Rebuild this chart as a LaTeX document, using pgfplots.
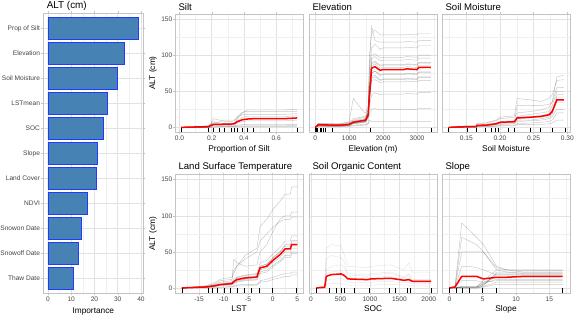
\documentclass[border=0pt]{standalone}
\usepackage{pgfplots}
\usepackage{pgfplotstable}
\pgfplotsset{compat=1.18}
\usepackage{fontspec}
\setmainfont{Liberation Sans}
\definecolor{steel}{HTML}{4682B4}
\definecolor{barblue}{HTML}{1F3BFF}
\definecolor{bordergrey}{HTML}{C4C4C4}
\definecolor{gridgrey}{HTML}{E2E2E2}
\definecolor{minorgrey}{HTML}{F0F0F0}
\definecolor{txtgrey}{HTML}{444444}
\newcommand{\ticksz}{\fontsize{6.6}{7.5}\selectfont}
\newcommand{\labsz}{\fontsize{8.3}{9.5}\selectfont}
\newcommand{\titsz}{\fontsize{9.6}{11}\selectfont}

\pgfplotstableread{
x m g1 g2 g3 g4 g5 g6 g7 g8
0.01 0 0 0 0 0 0 0 0 0
0.18 1 0 1 0 2 1 0 2 0
0.21 4 2 8 12 3 5 1 6 0
0.25 4 2 6 10 3 5 1 8 1
0.28 4.5 2 5 8 3 5 1 10 1
0.32 4.5 2 6 8 3 6 1 10 1
0.34 5 2 6 9 3 6 1 10 1
0.36 8 3 12 14 6 10 2 15 1
0.39 10.5 4 20 18 8 14 2 21 1
0.42 11.5 4 24 18 9 15 2 22 1
0.46 12 4 24 18 9 15 2 22 1
0.56 12 4 24 18 9 15 2 22 1
0.65 12 4 24 18 9 15 2 22 1
0.73 13 4 25 19 10 16 3 22 1
}\silt

\pgfplotstableread{
x m g1 g2 g3 g4 g5 g6 g7 g8 g9 g10 g11 g12 g13 g14 g15 g16
0 0 0 0 0 0 0 0 0 0 0 0 0 0 0 0 0 0
90 3.7 2 5 3 4 2 6 3 4 1 3 2 5 3 4 2 4
500 3 2 4 3 3 1 5 3 3 1 2 2 5 3 3 2 4
730 3 2 4 3 3 1 5 3 3 1 2 2 5 3 3 2 4
1000 4 3 6 4 4 2 8 4 5 1 3 3 7 4 5 3 5
1120 7 5 10 6 8 3 40 7 9 2 6 5 12 7 8 6 8
1450 9.7 7 14 8 10 4 20 9 12 3 8 7 15 9 11 8 10
1480 10 8 14 8 12 4 20 10 12 3 9 7 15 10 11 9 11
1560 17.5 12 25 15 20 6 30 18 20 5 16 14 25 17 19 15 20
1600 45 30 80 60 55 20 100 50 45 10 50 40 90 42 48 38 55
1660 82 45 110 95 75 25 130 85 65 8 90 70 140 75 88 68 100
1760 84 48 115 98 78 26 135 88 66 8 92 72 120 78 90 70 102
1910 79 45 108 92 72 24 128 82 62 8 86 66 118 73 85 65 96
2000 80 46 110 93 73 25 128 83 63 8 87 67 118 74 86 66 97
2600 80 46 110 93 73 25 128 83 63 8 87 67 118 74 86 66 97
2700 81 47 111 94 74 25 129 84 64 8 88 68 119 75 87 67 98
3000 80 46 110 93 73 25 128 83 63 8 87 67 118 74 86 66 97
3050 83 48 113 96 76 26 130 86 65 8 90 70 120 77 89 69 100
3410 83 48 113 96 76 26 130 86 65 8 90 70 120 77 89 69 100
}\elev

\pgfplotstableread{
x m g1 g2 g3 g4 g5 g6 g7 g8 g9 g10
0.124 0 0 0 0 0 0 0 0 0 0 0
0.151 1 1 0 1 0 2 1 0 1 1 1
0.165 1 1 0 2 1 2 1 0 1 1 1
0.166 2.8 3 1 5 2 6 3 1 2 3 2
0.179 3 3 1 6 2 6 4 1 2 3 3
0.185 3.7 4 1 7 3 8 5 1 2 4 3
0.1945 5 5 2 9 4 10 6 1 3 5 4
0.2 7 7 3 12 5 14 8 2 4 7 6
0.2215 7.8 8 3 14 5 16 9 2 5 8 7
0.2255 13 30 5 20 8 40 15 4 10 14 12
0.245 14 30 6 22 9 38 18 4 10 15 13
0.261 15.2 30 7 24 10 36 20 4 12 16 14
0.273 17.5 32 8 28 12 40 22 5 14 19 16
0.2776 22 35 10 35 15 45 30 6 18 24 20
0.2845 38 55 20 70 25 65 50 10 42 45 35
0.295 38 55 20 72 25 66 50 10 42 46 35
}\soilm

\pgfplotstableread{
x m g1 g2 g3 g4 g5 g6 g7 g8 g9 g10 g11 g12
-18.5 0 0 0 0 0 0 0 0 0 0 0 0 0
-13.4 1.4 2 1 3 1 0 2 1 0 3 1 1 2
-11.7 3.2 5 2 8 3 1 4 3 0 6 3 2 4
-10.7 4.6 8 3 12 4 1 6 5 1 10 5 4 5
-8.3 6 10 4 15 5 2 8 7 1 12 6 5 7
-7.9 8.8 40 6 20 7 3 12 10 2 25 9 8 10
-7.3 11.5 35 8 30 9 4 15 14 3 30 11 10 13
-5.6 13.8 30 10 45 11 5 18 17 3 40 14 12 15
-3.2 15.2 32 11 55 12 5 20 19 4 50 15 14 17
-2.55 27.7 50 20 85 22 8 35 30 10 65 28 25 30
-1.2 30 60 22 95 25 9 38 33 12 75 31 28 33
0.2 39 80 30 110 32 12 48 43 15 85 40 36 42
1.5 46 95 36 120 38 14 56 50 18 92 47 42 50
2.55 54 100 42 130 45 16 65 60 20 95 55 50 58
3.6 54 100 42 130 45 16 65 60 20 95 55 50 58
3.9 60 105 48 140 50 18 72 66 22 98 61 55 64
5.06 60 105 48 140 50 18 72 66 22 98 61 55 64
}\lst

\pgfplotstableread{
x m g1 g2 g3 g4 g5 g6
91 0 0 0 0 0 0 0
231 1 2 0 1 0 3 1
259 16 40 10 25 5 55 20
343 18.5 45 12 30 6 60 22
512 19.4 42 13 32 6 58 24
568 17 35 11 28 5 45 20
624 12.5 20 8 18 4 30 14
961 11.5 18 7 16 4 28 13
1017 12.5 20 8 18 4 30 15
1354 13.4 22 9 20 5 32 16
1578 10.6 15 7 14 4 25 12
1663 11.5 20 8 18 4 35 14
1719 9.2 12 6 10 3 22 10
2040 9.2 12 6 10 3 22 10
}\soc

\pgfplotstableread{
x m g1 g2 g3 g4 g5 g6 g7 g8 g9 g10 g11 g12 g13
0 0 0 0 0 0 0 0 0 0 0 0 0 0 0
0.85 1.4 2 1 0 0 2 1 0 1 0 0 0 1 0
1.86 16 90 50 2 1 70 10 0 30 1 0 1 2 0
3 16 80 50 2 1 65 10 0 30 1 0 1 2 0
4.1 16 70 50 2 1 60 10 0 28 1 0 1 2 0
5.1 12.5 60 50 10 5 50 8 2 25 6 3 4 8 1
7.1 14.8 30 25 25 20 28 15 8 18 12 22 18 10 5
8.6 14.8 25 22 25 20 25 15 8 18 12 22 18 10 5
11.1 16 22 20 25 20 24 15 8 18 12 22 18 10 5
17 16 22 20 25 20 24 15 8 18 12 22 18 10 5
}\slope

\pgfplotsset{
  base/.style={
    scale only axis, grid=both,
    major grid style={draw=gridgrey, line width=0.45pt},
    minor grid style={draw=minorgrey, line width=0.3pt},
    axis line style={draw=bordergrey, line width=0.5pt},
    tick align=outside, major tick length=2pt, minor tick length=0pt,
    tick style={draw=bordergrey, line width=0.4pt},
    tick label style={font=\ticksz, text=txtgrey},
    xticklabel style={anchor=north, inner sep=0pt, yshift=-1.5pt},
    every axis x label/.style={at={(axis description cs:0.5,0)}, anchor=base, yshift=-18.8pt, font=\labsz},
    every axis title/.style={at={(axis description cs:0,1)}, anchor=base west, yshift=3.8pt, font=\titsz},
    /pgf/number format/assume math mode=true,
  },
  ice/.style={base, width=128pt, height=118.4pt, ymin=-7, ymax=157,
    ytick={0,50,100,150}, minor ytick={25,75,125}},
  leftp/.style={ytick pos=left, yticklabel pos=left,
    yticklabels={0,50,100,150},
    yticklabel style={anchor=east, inner sep=0.5pt}},
  innerp/.style={yticklabels={}, y tick style={draw=none}},
  greyl/.style={draw=black, opacity=0.22, line width=0.45pt, forget plot},
  meanl/.style={draw=red, line width=1.5pt},
  rugm/.style={only marks, mark=|, mark size=2.3pt, mark options={draw=black, line width=0.7pt}},
}

\begin{document}
\begin{tikzpicture}
\useasboundingbox (0,0) rectangle (575pt,315pt);

% ---------- importance bar chart ----------
\begin{axis}[base, at={(43.3pt,21.7pt)}, anchor=south west,
  width=100pt, height=280pt,
  xmin=-2, xmax=41, ymin=0.4, ymax=11.6,
  xtick={0,10,20,30,40}, minor xtick={5,15,25,35},
  ytick={1,2,3,4,5,6,7,8,9,10,11},
  yticklabels={Thaw Date,Snowoff Date,Snowon Date,NDVI,Land Cover,Slope,SOC,LSTmean,Soil Moisture,Elevation,Prop of Silt},
  yticklabel style={anchor=east, inner sep=0pt, xshift=-1.1pt},
  title={ALT (cm)}, title style={yshift=0.5pt, font=\fontsize{9.9}{11}\selectfont},
  xlabel={Importance}, xlabel style={yshift=-1pt},
  xbar, bar width=0.87]
\addplot[xbar, fill=steel, draw=barblue, line width=0.8pt] coordinates {
 (10.9,1) (13.2,2) (14.4,3) (17.0,4) (20.8,5) (21.2,6) (23.7,7) (25.5,8) (30.0,9) (32.7,10) (38.9,11)};
\end{axis}

% ---------- Silt ----------
\begin{axis}[ice, leftp, at={(175pt,182.6pt)}, anchor=south west,
  xmin=-0.028, xmax=0.767,
  xtick={0,0.2,0.4,0.6}, xticklabels={0.0,0.2,0.4,0.6}, minor xtick={0.1,0.3,0.5,0.7},
  title={Silt}, xlabel={Proportion of Silt}]
\pgfplotsinvokeforeach{g1,g2,g3,g4,g5,g6,g7,g8}{\addplot[greyl] table[x=x,y=#1]{\silt};}
\addplot[meanl] table[x=x,y=m]{\silt};
\addplot[rugm] coordinates {(0.01,-3.8) (0.18,-3.8) (0.21,-3.8) (0.25,-3.8) (0.28,-3.8) (0.32,-3.8) (0.34,-3.8) (0.36,-3.8) (0.39,-3.8) (0.42,-3.8) (0.46,-3.8) (0.56,-3.8) (0.73,-3.8)};
\end{axis}

% ---------- Elevation ----------
\begin{axis}[ice, innerp, at={(309pt,182.6pt)}, anchor=south west,
  xmin=-186, xmax=3590,
  xtick={0,1000,2000,3000}, xticklabels={0,1000,2000,3000}, minor xtick={500,1500,2500,3500},
  title={Elevation}, xlabel={Elevation (m)}]
\pgfplotsinvokeforeach{g1,g2,g3,g4,g5,g6,g7,g8,g9,g10,g11,g12,g13,g14,g15,g16}{\addplot[greyl] table[x=x,y=#1]{\elev};}
\addplot[meanl] table[x=x,y=m]{\elev};
\addplot[rugm] coordinates {(0,-3.8) (20,-3.8) (40,-3.8) (60,-3.8) (140,-3.8) (190,-3.8) (240,-3.8) (285,-3.8) (510,-3.8) (1610,-3.8) (3420,-3.8)};
\end{axis}

% ---------- Soil Moisture ----------
\begin{axis}[ice, innerp, at={(442pt,182.6pt)}, anchor=south west,
  xmin=0.114, xmax=0.304,
  xtick={0.15,0.2,0.25,0.3}, xticklabels={0.15,0.20,0.25,0.30}, minor xtick={0.125,0.175,0.225,0.275},
  title={Soil Moisture}, xlabel={Soil Moisture}]
\pgfplotsinvokeforeach{g1,g2,g3,g4,g5,g6,g7,g8,g9,g10}{\addplot[greyl] table[x=x,y=#1]{\soilm};}
\addplot[meanl] table[x=x,y=m]{\soilm};
\addplot[rugm] coordinates {(0.124,-3.8) (0.151,-3.8) (0.1655,-3.8) (0.179,-3.8) (0.1875,-3.8) (0.1925,-3.8) (0.198,-3.8) (0.213,-3.8) (0.222,-3.8) (0.245,-3.8) (0.26,-3.8) (0.278,-3.8) (0.297,-3.8)};
\end{axis}

% ---------- LST ----------
\begin{axis}[ice, leftp, at={(175pt,22pt)}, anchor=south west,
  xmin=-19.9, xmax=6.2,
  xtick={-15,-10,-5,0,5}, xticklabels={-15,-10,-5,0,5}, minor xtick={-17.5,-12.5,-7.5,-2.5,2.5},
  title={Land Surface Temperature}, title style={yshift=1.5pt}, xlabel={LST}]
\pgfplotsinvokeforeach{g1,g2,g3,g4,g5,g6,g7,g8,g9,g10,g11,g12}{\addplot[greyl] table[x=x,y=#1]{\lst};}
\addplot[meanl] table[x=x,y=m]{\lst};
\addplot[rugm] coordinates {(-18.5,-3.8) (-13.1,-3.8) (-12.2,-3.8) (-11.2,-3.8) (-9.8,-3.8) (-8.7,-3.8) (-7.2,-3.8) (-5.8,-3.8) (-4.4,-3.8) (-2.7,-3.8) (0,-3.8) (4.9,-3.8)};
\end{axis}

% ---------- SOC ----------
\begin{axis}[ice, innerp, at={(309pt,22pt)}, anchor=south west,
  xmin=-35, xmax=2140,
  xtick={0,500,1000,1500,2000}, xticklabels={0,500,1000,1500,2000}, minor xtick={250,750,1250,1750},
  title={Soil Organic Content}, title style={yshift=1.5pt}, xlabel={SOC}]
\pgfplotsinvokeforeach{g1,g2,g3,g4,g5,g6}{\addplot[greyl, opacity=0.1] table[x=x,y=#1]{\soc};}
\addplot[meanl] table[x=x,y=m]{\soc};
\addplot[rugm] coordinates {(91,-3.8) (315,-3.8) (427,-3.8) (512,-3.8) (568,-3.8) (736,-3.8) (989,-3.8) (1326,-3.8) (1438,-3.8) (1635,-3.8) (1691,-3.8) (2040,-3.8)};
\end{axis}

% ---------- Slope ----------
\begin{axis}[ice, innerp, at={(442pt,22pt)}, anchor=south west,
  xmin=-1.1, xmax=18.1,
  xtick={0,5,10,15}, xticklabels={0,5,10,15}, minor xtick={2.5,7.5,12.5,17.5},
  title={Slope}, title style={yshift=1.5pt}, xlabel={Slope}]
\pgfplotsinvokeforeach{g1,g2,g3,g4,g5,g6,g7,g8,g9,g10,g11,g12,g13}{\addplot[greyl] table[x=x,y=#1]{\slope};}
\addplot[meanl] table[x=x,y=m]{\slope};
\addplot[rugm] coordinates {(0,-3.8) (1,-3.8) (2,-3.8) (3,-3.8) (5,-3.8) (7,-3.8) (17,-3.8)};
\end{axis}

% shared y-axis titles of the two rows
\node[font=\labsz, rotate=90, anchor=center] at (153pt,242pt) {ALT (cm)};
\node[font=\labsz, rotate=90, anchor=center] at (153pt,81.2pt) {ALT (cm)};
\end{tikzpicture}
\end{document}
